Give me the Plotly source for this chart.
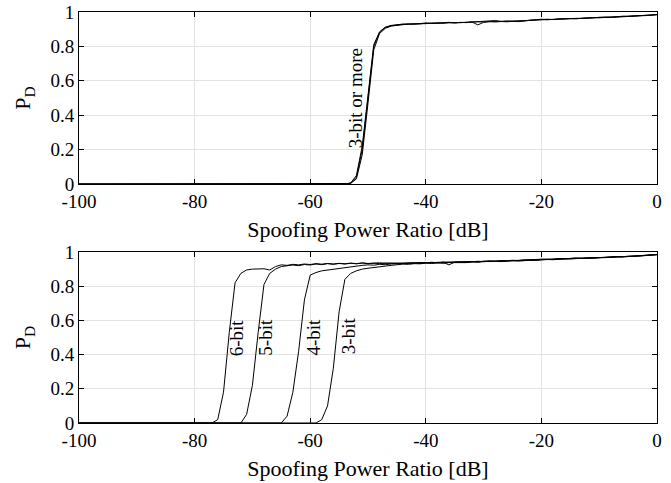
import plotly.graph_objects as go

# ---------------- data ----------------
# shared plateau grid (dB)
plateau_x = [-45, -44, -43, -42, -41, -40, -39, -38, -37, -36,
             -35, -34, -33, -32, -31, -30, -29, -28, -27, -26,
             -25, -24, -23, -22, -21, -20, -19, -18, -17, -16,
             -15, -14, -13, -12, -11, -10, -9, -8, -7, -6,
             -5, -4, -3, -2, -1, 0]

# ---- top panel: 3-bit or more (curves nearly coincide) ----
top_rise_x = [-100, -60, -55, -54, -53, -52, -51, -50, -49, -48, -47, -46]
top_a_rise = [0, 0, 0, 0, 0.005, 0.04, 0.2, 0.5, 0.8, 0.88, 0.91, 0.92]
top_b_rise = [0, 0, 0, 0, 0.003, 0.03, 0.17, 0.47, 0.78, 0.875, 0.905, 0.918]
top_c_rise = [0, 0, 0, 0, 0.006, 0.05, 0.22, 0.53, 0.81, 0.885, 0.912, 0.922]

top_a_plat = [0.925, 0.93, 0.928, 0.932, 0.93, 0.935, 0.933, 0.937, 0.935, 0.938,
              0.936, 0.94, 0.938, 0.942, 0.925, 0.94, 0.944, 0.942, 0.945, 0.943,
              0.946, 0.944, 0.948, 0.95, 0.952, 0.958, 0.955, 0.958, 0.957, 0.96,
              0.962, 0.96, 0.964, 0.966, 0.965, 0.968, 0.97, 0.968, 0.972, 0.975,
              0.974, 0.977, 0.976, 0.98, 0.982, 0.985]
top_b_plat = [0.923, 0.927, 0.93, 0.929, 0.933, 0.932, 0.936, 0.934, 0.938, 0.94,
              0.937, 0.939, 0.941, 0.94, 0.943, 0.942, 0.945, 0.946, 0.944, 0.947,
              0.945, 0.948, 0.947, 0.951, 0.954, 0.956, 0.958, 0.956, 0.96, 0.962,
              0.96, 0.963, 0.962, 0.965, 0.967, 0.966, 0.969, 0.971, 0.97, 0.973,
              0.976, 0.975, 0.978, 0.979, 0.981, 0.984]
top_c_plat = [0.926, 0.929, 0.931, 0.93, 0.934, 0.936, 0.934, 0.936, 0.939, 0.937,
              0.939, 0.938, 0.94, 0.941, 0.94, 0.944, 0.945, 0.95, 0.946, 0.946,
              0.947, 0.946, 0.949, 0.952, 0.953, 0.955, 0.957, 0.959, 0.958, 0.961,
              0.963, 0.962, 0.965, 0.964, 0.966, 0.969, 0.968, 0.97, 0.973, 0.974,
              0.975, 0.976, 0.979, 0.978, 0.982, 0.986]

# ---- bottom panel: per quantisation ----
b6_x = [-100, -77, -76, -75, -74, -73, -72, -71, -70, -69, -68, -67, -66, -65,
        -64, -63, -62, -61, -60, -59, -58, -57, -56, -55, -54, -53, -52, -51, -50, -49, -48, -47, -46]
b6_y = [0, 0, 0.02, 0.18, 0.53, 0.82, 0.875, 0.895, 0.9, 0.9, 0.902, 0.895, 0.915, 0.925,
        0.922, 0.928, 0.925, 0.93, 0.927, 0.932, 0.929, 0.933, 0.93, 0.934, 0.931, 0.935, 0.932, 0.936, 0.933, 0.935, 0.932, 0.936, 0.934]

b5_x = [-100, -72, -71, -70, -69, -68, -67, -66, -65, -64, -63, -62, -61, -60,
        -59, -58, -57, -56, -55, -54, -53, -52, -51, -50, -49, -48, -47, -46]
b5_y = [0, 0, 0.05, 0.22, 0.53, 0.81, 0.875, 0.9, 0.915, 0.918, 0.924, 0.92, 0.927, 0.924,
        0.93, 0.926, 0.932, 0.928, 0.933, 0.93, 0.934, 0.931, 0.936, 0.932, 0.934, 0.937, 0.933, 0.935]

b4_x = [-100, -65, -64, -63, -62, -61, -60, -59, -58, -57, -56, -55, -54, -53,
        -52, -51, -50, -49, -48, -47, -46]
b4_y = [0, 0, 0.04, 0.18, 0.42, 0.72, 0.865, 0.88, 0.89, 0.895, 0.9, 0.905, 0.91, 0.915,
        0.918, 0.922, 0.925, 0.923, 0.928, 0.926, 0.93]

b3_x = [-100, -59, -58, -57, -56, -55, -54, -53, -52, -51, -50, -49, -48, -47, -46]
b3_y = [0, 0, 0.02, 0.1, 0.32, 0.65, 0.84, 0.875, 0.89, 0.9, 0.905, 0.91, 0.915, 0.92, 0.922]

b6_plat = [0.933, 0.936, 0.934, 0.937, 0.935, 0.938, 0.936, 0.94, 0.938, 0.941,
           0.939, 0.943, 0.941, 0.944, 0.94, 0.946, 0.944, 0.947, 0.945, 0.949,
           0.948, 0.951, 0.95, 0.953, 0.952, 0.956, 0.955, 0.958, 0.957, 0.96,
           0.962, 0.96, 0.964, 0.963, 0.966, 0.968, 0.967, 0.97, 0.972, 0.971,
           0.975, 0.977, 0.976, 0.979, 0.982, 0.985]
b5_plat = [0.934, 0.932, 0.937, 0.935, 0.939, 0.937, 0.94, 0.938, 0.942, 0.94,
           0.943, 0.941, 0.945, 0.943, 0.946, 0.944, 0.948, 0.946, 0.95, 0.948,
           0.951, 0.95, 0.953, 0.955, 0.954, 0.957, 0.959, 0.957, 0.96, 0.962,
           0.961, 0.964, 0.962, 0.966, 0.965, 0.967, 0.97, 0.969, 0.971, 0.974,
           0.973, 0.976, 0.978, 0.98, 0.981, 0.986]
b4_plat = [0.93, 0.934, 0.933, 0.936, 0.934, 0.937, 0.939, 0.936, 0.94, 0.925,
           0.941, 0.943, 0.94, 0.945, 0.943, 0.946, 0.948, 0.945, 0.95, 0.949,
           0.952, 0.95, 0.954, 0.953, 0.956, 0.958, 0.956, 0.959, 0.962, 0.96,
           0.963, 0.965, 0.963, 0.967, 0.966, 0.969, 0.968, 0.971, 0.973, 0.972,
           0.976, 0.975, 0.979, 0.98, 0.983, 0.985]
b3_plat = [0.926, 0.929, 0.928, 0.932, 0.931, 0.935, 0.933, 0.936, 0.934, 0.938,
           0.937, 0.94, 0.938, 0.941, 0.943, 0.941, 0.944, 0.946, 0.944, 0.947,
           0.949, 0.947, 0.95, 0.952, 0.951, 0.954, 0.956, 0.955, 0.958, 0.96,
           0.959, 0.962, 0.964, 0.963, 0.966, 0.965, 0.968, 0.97, 0.969, 0.972,
           0.974, 0.976, 0.975, 0.978, 0.98, 0.984]

x_ticks = [-100, -80, -60, -40, -20, 0]
x_tick_text = ["-100", "-80", "-60", "-40", "-20", "0"]
y_ticks = [0, 0.2, 0.4, 0.6, 0.8, 1]
y_tick_text = ["0", "0.2", "0.4", "0.6", "0.8", "1"]

top_label = "3-bit or more"
top_label_pos = (-52.2, 0.5)
bottom_labels = ["6-bit", "5-bit", "4-bit", "3-bit"]
bottom_label_x = [-72.7, -67.8, -59.5, -53.4]
bottom_label_y = [0.5, 0.5, 0.5, 0.51]

x_title = "Spoofing Power Ratio [dB]"
y_title = "P<sub>D</sub>"

# ---------------- figure ----------------
FONT = "Liberation Serif"
fig = go.Figure()

line = dict(color="black", width=1)
for rx, ry, py in [(top_rise_x, top_a_rise, top_a_plat),
                   (top_rise_x, top_b_rise, top_b_plat),
                   (top_rise_x, top_c_rise, top_c_plat)]:
    fig.add_trace(go.Scatter(x=rx + plateau_x[1:], y=ry + py[1:], mode="lines",
                             line=line, xaxis="x", yaxis="y", showlegend=False,
                             hoverinfo="skip"))

for rx, ry, py in [(b6_x, b6_y, b6_plat), (b5_x, b5_y, b5_plat),
                   (b4_x, b4_y, b4_plat), (b3_x, b3_y, b3_plat)]:
    fig.add_trace(go.Scatter(x=rx + plateau_x[1:], y=ry + py[1:], mode="lines",
                             line=line, xaxis="x2", yaxis="y2", showlegend=False,
                             hoverinfo="skip"))

axis_common = dict(
    showline=True, linecolor="black", linewidth=1, mirror="ticks",
    ticks="inside", ticklen=5, tickcolor="black", tickwidth=1,
    showgrid=True, gridcolor="#e3e3e3", gridwidth=1, zeroline=False,
    automargin=False,
    tickfont=dict(family=FONT, size=19, color="black"),
)

fig.update_layout(
    width=671, height=483,
    margin=dict(l=79, r=14, t=12, b=60),
    paper_bgcolor="white", plot_bgcolor="white",
    font=dict(family=FONT, color="black", size=19),
    xaxis=dict(domain=[0, 1], anchor="y", range=[-100, 0], tickvals=x_ticks,
               ticktext=x_tick_text,
               title=dict(text=x_title, font=dict(family=FONT, size=22), standoff=10),
               **axis_common),
    yaxis=dict(domain=[0.5815, 1.0], anchor="x", range=[0, 1], tickvals=y_ticks,
               ticktext=y_tick_text,
               title=dict(text=y_title, font=dict(family=FONT, size=22), standoff=13),
               **axis_common),
    xaxis2=dict(domain=[0, 1], anchor="y2", range=[-100, 0], tickvals=x_ticks,
                ticktext=x_tick_text,
                title=dict(text=x_title, font=dict(family=FONT, size=22), standoff=10),
                **axis_common),
    yaxis2=dict(domain=[0.0, 0.416], anchor="x2", range=[0, 1], tickvals=y_ticks,
                ticktext=y_tick_text,
                title=dict(text=y_title, font=dict(family=FONT, size=22), standoff=13),
                **axis_common),
)

fig.add_annotation(x=top_label_pos[0], y=top_label_pos[1], xref="x", yref="y",
                   text=top_label, textangle=-90, showarrow=False,
                   font=dict(family=FONT, size=19, color="black"))
for t, lx, ly in zip(bottom_labels, bottom_label_x, bottom_label_y):
    fig.add_annotation(x=lx, y=ly, xref="x2", yref="y2", text=t, textangle=-90,
                       showarrow=False, font=dict(family=FONT, size=19, color="black"))

# remove the default 8px page margin so the figure sits at the window origin
fig.write_html("out.html", config={"displayModeBar": False},
               post_script="document.body.style.margin='0';")
